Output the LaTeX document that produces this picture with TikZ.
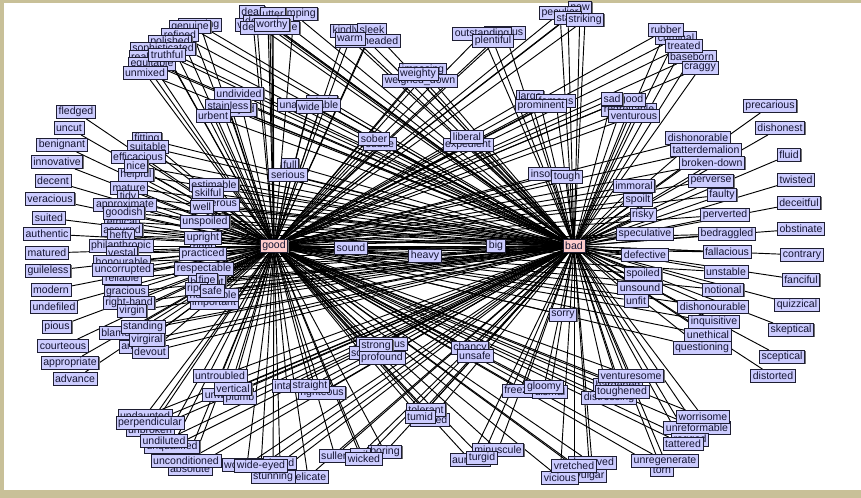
\documentclass[tikz,border=0pt]{standalone}
\usepackage{fontspec}
\newfontfamily\wordfont{Liberation Sans}
\usetikzlibrary{backgrounds,shadows}
\tikzset{
  word/.style={draw={rgb, 255:red, 30; green, 30; blue, 50 }, fill={rgb, 255:red, 204; green, 204; blue, 255 }, line width=0.6pt,
    inner xsep=1.6pt, inner ysep=0pt, minimum height=9.8pt, font=\wordfont\fontsize{7.9}{8}\selectfont,
    text={rgb, 255:red, 20; green, 20; blue, 50 }, drop shadow={shadow xshift=0.7pt, shadow yshift=-0.7pt, opacity=1, fill=black!55}},
  hub/.style={word, fill={rgb, 255:red, 255; green, 204; blue, 204 }},
  link/.style={draw=black, line width=0.7pt},
}
\begin{document}
\begin{tikzpicture}[x=0.75pt,y=0.75pt,yscale=-1,xscale=1]
\useasboundingbox (0,0) rectangle (861,498);
% Text Node: outer column left
\draw (76,112) node [word] (fledged) {fledged};
\draw (69,128) node [word] (uncut) {uncut};
\draw (62,145) node [word] (benignant) {benignant};
\draw (57,162) node [word] (innovative) {innovative};
\draw (53,181) node [word] (decent) {decent};
\draw (50,199) node [word] (veracious) {veracious};
\draw (49,218) node [word] (suited) {suited};
\draw (47,234) node [word] (authentic) {authentic};
\draw (47,253) node [word] (matured) {matured};
\draw (48,271) node [word] (guileless) {guileless};
\draw (51,290) node [word] (modern) {modern};
\draw (54,307) node [word] (undefiled) {undefiled};
\draw (57,327) node [word] (pious) {pious};
\draw (63,346) node [word] (courteous) {courteous};
\draw (70,363) node [word] (appropriate) {appropriate};
\draw (75,379) node [word] (advance) {advance};
% Text Node: top left cluster
\draw (200,25) node [word] (unerring) {unerring};
\draw (190,27) node [word] (genuine) {genuine};
\draw (180,35) node [word] (refined) {refined};
\draw (170,42) node [word] (polished) {polished};
\draw (163,49) node [word] (sophisticated) {sophisticated};
\draw (140,57) node [word] (real) {real};
\draw (152,64) node [word] (equitable) {equitable};
\draw (167,55) node [word] (truthful) {truthful};
\draw (145,73) node [word] (unmixed) {unmixed};
\draw (232,110) node [word] (unalloyed) {unalloyed};
\draw (239,94) node [word] (undivided) {undivided};
\draw (228,106) node [word] (stainless) {stainless};
\draw (213,116) node [word] (urbent) {urbent};
% Text Node: top row
\draw (252,12) node [word] (dear) {dear};
\draw (294,14) node [word] (thumping) {thumping};
\draw (257,25) node [word] (valuable) {valuable};
\draw (273,14) node [word] (utter) {utter};
\draw (268,22) node [word] (deserving) {deserving};
\draw (270,28) node [word] (dependable) {dependable};
\draw (272,25) node [word] (worthy) {worthy};
\draw (346,31) node [word] (kindly) {kindly};
\draw (372,30) node [word] (sleek) {sleek};
\draw (368,41) node [word] (levelheaded) {level-headed};
\draw (350,39) node [word] (warm) {warm};
\draw (423,70) node [word] (imposing) {imposing};
\draw (420,81) node [word] (weigheddown) {weighed\_down};
\draw (418,74) node [word] (weighty) {weighty};
\draw (505,33) node [word] (copious) {copious};
\draw (482,34) node [word] (outstanding) {outstanding};
\draw (493,41) node [word] (plentiful) {plentiful};
\draw (580,8) node [word] (new) {new};
\draw (560,13) node [word] (peculiar) {peculiar};
\draw (568,18) node [word] (stark) {stark};
\draw (585,20) node [word] (striking) {striking};
% Text Node: upper middle
\draw (322,102) node [word] (whole) {whole};
\draw (309,105) node [word] (unassailable) {unassailable};
\draw (309,107) node [word] (wide) {wide};
\draw (380,144) node [word] (subtle) {subtle};
\draw (374,139) node [word] (sober) {sober};
\draw (468,145) node [word] (expedient) {expedient};
\draw (467,137) node [word] (liberal) {liberal};
\draw (530,97) node [word] (large) {large};
\draw (556,101) node [word] (famous) {famous};
\draw (541,106) node [word] (prominent) {prominent};
\draw (290,165) node [word] (full) {full};
\draw (288,175) node [word] (serious) {serious};
\draw (549,174) node [word] (insolent) {insolent};
\draw (567,177) node [word] (tough) {tough};
% Text Node: top right cluster
\draw (676,38) node [word] (criminal) {criminal};
\draw (692,57) node [word] (baseborn) {baseborn};
\draw (666,30) node [word] (rubber) {rubber};
\draw (684,46) node [word] (treated) {treated};
\draw (700,68) node [word] (craggy) {craggy};
\draw (629,110) node [word] (regrettable) {regrettable};
\draw (624,100) node [word] (nogood) {no-good};
\draw (612,99) node [word] (sad) {sad};
\draw (634,116) node [word] (venturous) {venturous};
% Text Node: outer column right
\draw (770,106) node [word] (precarious) {precarious};
\draw (780,128) node [word] (dishonest) {dishonest};
\draw (789,155) node [word] (fluid) {fluid};
\draw (796,180) node [word] (twisted) {twisted};
\draw (799,203) node [word] (deceitful) {deceitful};
\draw (801,229) node [word] (obstinate) {obstinate};
\draw (802,255) node [word] (contrary) {contrary};
\draw (801,280) node [word] (fanciful) {fanciful};
\draw (797,305) node [word] (quizzical) {quizzical};
\draw (791,330) node [word] (skeptical) {skeptical};
\draw (782,357) node [word] (sceptical) {sceptical};
\draw (773,376) node [word] (distorted) {distorted};
% Text Node: middle right
\draw (698,138) node [word] (dishonorable) {dishonorable};
\draw (706,150) node [word] (tatterdemalion) {tatterdemalion};
\draw (712,163) node [word] (brokendown) {broken-down};
\draw (711,181) node [word] (perverse) {perverse};
\draw (722,195) node [word] (faulty) {faulty};
\draw (725,215) node [word] (perverted) {perverted};
\draw (727,234) node [word] (bedraggled) {bedraggled};
\draw (727,252) node [word] (fallacious) {fallacious};
\draw (726,272) node [word] (unstable) {unstable};
\draw (723,290) node [word] (notional) {notional};
\draw (713,307) node [word] (dishonourable) {dishonourable};
\draw (714,322) node [word] (inquisitive) {inquisitive};
\draw (708,335) node [word] (unethical) {unethical};
\draw (702,348) node [word] (questioning) {questioning};
\draw (634,186) node [word] (immoral) {immoral};
\draw (638,200) node [word] (spoilt) {spoilt};
\draw (643,215) node [word] (risky) {risky};
\draw (645,234) node [word] (speculative) {speculative};
\draw (645,255) node [word] (defective) {defective};
\draw (643,274) node [word] (spoiled) {spoiled};
\draw (640,288) node [word] (unsound) {unsound};
\draw (636,301) node [word] (unfit) {unfit};
\draw (563,315) node [word] (sorry) {sorry};
% Text Node: middle left
\draw (147,139) node [word] (fitting) {fitting};
\draw (148,147) node [word] (suitable) {suitable};
\draw (138,157) node [word] (efficacious) {efficacious};
\draw (136,175) node [word] (helpful) {helpful};
\draw (136,166) node [word] (nice) {nice};
\draw (129,188) node [word] (mature) {mature};
\draw (128,197) node [word] (tidy) {tidy};
\draw (125,205) node [word] (approximate) {approximate};
\draw (122,222) node [word] (ethical) {ethical};
\draw (124,213) node [word] (goodish) {goodish};
\draw (122,230) node [word] (assured) {assured};
\draw (121,236) node [word] (hefty) {hefty};
\draw (121,246) node [word] (philanthropic) {philanthropic};
\draw (122,253) node [word] (vestal) {vestal};
\draw (122,262) node [word] (honourable) {honourable};
\draw (122,278) node [word] (reliable) {reliable};
\draw (123,270) node [word] (uncorrupted) {uncorrupted};
\draw (126,292) node [word] (gracious) {gracious};
\draw (129,303) node [word] (righthand) {right-hand};
\draw (132,311) node [word] (virgin) {virgin};
\draw (125,333) node [word] (blameless) {blameless};
\draw (138,347) node [word] (angelic) {angelic};
\draw (150,352) node [word] (devout) {devout};
\draw (143,327) node [word] (standing) {standing};
\draw (147,340) node [word] (virgiral) {virgiral};
\draw (214,185) node [word] (estimable) {estimable};
\draw (208,193) node [word] (skilful) {skilful};
\draw (215,205) node [word] (generous) {generous};
\draw (202,207) node [word] (well) {well};
\draw (205,222) node [word] (unspoiled) {unspoiled};
\draw (203,248) node [word] (right) {right};
\draw (203,238) node [word] (upright) {upright};
\draw (203,254) node [word] (practiced) {practiced};
\draw (204,269) node [word] (respectable) {respectable};
\draw (207,282) node [word] (brilliant) {brilliant};
\draw (207,280) node [word] (fine) {fine};
\draw (214,303) node [word] (important) {important};
\draw (213,295) node [word] (honorable) {honorable};
\draw (196,289) node [word] (ripe) {ripe};
\draw (212,291) node [word] (safe) {safe};
% Text Node: centre
\draw (351,248) node [word] (sound) {sound};
\draw (425,256) node [word] (heavy) {heavy};
\draw (496,246) node [word] (big) {big};
% Text Node: bottom left
\draw (228,395) node [word] (unworried) {unworried};
\draw (240,398) node [word] (plumb) {plumb};
\draw (220,376) node [word] (untroubled) {untroubled};
\draw (233,389) node [word] (vertical) {vertical};
\draw (145,416) node [word] (undaunted) {undaunted};
\draw (150,430) node [word] (unbroken) {unbroken};
\draw (150,423) node [word] (perpendicular) {perpendicular};
\draw (172,447) node [word] (unqualified) {unqualified};
\draw (164,441) node [word] (undiluted) {undiluted};
\draw (190,469) node [word] (absolute) {absolute};
\draw (186,461) node [word] (unconditioned) {unconditioned};
\draw (247,465) node [word] (wonderful) {wonderful};
\draw (280,463) node [word] (dazed) {dazed};
\draw (308,477) node [word] (delicate) {delicate};
\draw (273,477) node [word] (stunning) {stunning};
\draw (261,466) node [word] (wideeyed) {wide-eyed};
% Text Node: bottom middle
\draw (287,386) node [word] (intact) {intact};
\draw (322,393) node [word] (righteous) {righteous};
\draw (310,386) node [word] (straight) {straight};
\draw (382,344) node [word] (strenuous) {strenuous};
\draw (362,353) node [word] (solid) {solid};
\draw (376,346) node [word] (strong) {strong};
\draw (382,358) node [word] (profound) {profound};
\draw (470,348) node [word] (chancy) {chancy};
\draw (475,356) node [word] (unsafe) {unsafe};
\draw (430,420) node [word] (bloated) {bloated};
\draw (426,410) node [word] (tolerant) {tolerant};
\draw (420,417) node [word] (tumid) {tumid};
\draw (335,456) node [word] (sullen) {sullen};
\draw (385,452) node [word] (boring) {boring};
\draw (360,455) node [word] (evil) {evil};
\draw (364,459) node [word] (wicked) {wicked};
\draw (470,460) node [word] (aureate) {aureate};
\draw (498,450) node [word] (minuscule) {minuscule};
\draw (482,458) node [word] (turgid) {turgid};
\draw (523,391) node [word] (freezing) {freezing};
\draw (550,392) node [word] (dismal) {dismal};
\draw (544,387) node [word] (gloomy) {gloomy};
% Text Node: bottom right
\draw (592,463) node [word] (depraved) {depraved};
\draw (590,476) node [word] (vulgar) {vulgar};
\draw (560,478) node [word] (vicious) {vicious};
\draw (574,466) node [word] (vretched) {vretched};
\draw (618,385) node [word] (hardened) {hardened};
\draw (609,398) node [word] (distressing) {distressing};
\draw (622,392) node [word] (toughened) {toughened};
\draw (631,376) node [word] (venturesome) {venturesome};
\draw (697,428) node [word] (unreformable) {unreformable};
\draw (703,417) node [word] (worrisome) {worrisome};
\draw (690,440) node [word] (ragged) {ragged};
\draw (683,444) node [word] (tattered) {tattered};
\draw (662,470) node [word] (torn) {torn};
\draw (665,461) node [word] (unregenerate) {unregenerate};
% Text Node: hubs
\draw (274,246) node [hub] (good) {good};
\draw (574,246) node [hub] (bad) {bad};

\begin{pgfonlayer}{background}
%Shape: frame
\fill [fill={rgb, 255:red, 200; green, 192; blue, 152 }] (0,0) rectangle (861,498);
\fill [white] (4,3) rectangle (861,490);
%Straight Lines: good only
\path [link] (good) edge (fledged) edge (uncut) edge (benignant) edge (innovative) edge (decent) edge (veracious)
  edge (suited) edge (authentic) edge (matured) edge (guileless) edge (modern) edge (undefiled) edge (pious)
  edge (courteous) edge (appropriate) edge (advance);
%Straight Lines: bad only
\path [link] (bad) edge (precarious) edge (dishonest) edge (fluid) edge (twisted) edge (deceitful) edge (obstinate)
  edge (contrary) edge (fanciful) edge (quizzical) edge (skeptical) edge (sceptical) edge (distorted);
%Straight Lines: both hubs
\foreach \hubname in {good,bad}{
\path [link] (\hubname) edge (unerring) edge (genuine) edge (refined) edge (polished) edge (sophisticated) edge (real)
  edge (equitable) edge (truthful) edge (unmixed) edge (unalloyed) edge (undivided) edge (stainless) edge (urbent)
  edge (dear) edge (thumping) edge (valuable) edge (utter) edge (deserving) edge (dependable) edge (worthy)
  edge (kindly) edge (sleek) edge (levelheaded) edge (warm) edge (imposing) edge (weigheddown) edge (weighty)
  edge (copious) edge (outstanding) edge (plentiful) edge (new) edge (peculiar) edge (stark) edge (striking)
  edge (whole) edge (unassailable) edge (wide) edge (subtle) edge (sober) edge (expedient) edge (liberal)
  edge (large) edge (famous) edge (prominent) edge (full) edge (serious) edge (insolent) edge (tough)
  edge (criminal) edge (baseborn) edge (rubber) edge (treated) edge (craggy) edge (regrettable) edge (nogood)
  edge (sad) edge (venturous);
\path [link] (\hubname) edge (dishonorable) edge (tatterdemalion) edge (brokendown) edge (perverse) edge (faulty)
  edge (perverted) edge (bedraggled) edge (fallacious) edge (unstable) edge (notional) edge (dishonourable)
  edge (inquisitive) edge (unethical) edge (questioning) edge (immoral) edge (spoilt) edge (risky) edge (speculative)
  edge (defective) edge (spoiled) edge (unsound) edge (unfit) edge (sorry);
\path [link] (\hubname) edge (fitting) edge (suitable) edge (efficacious) edge (helpful) edge (nice) edge (mature)
  edge (tidy) edge (approximate) edge (ethical) edge (goodish) edge (assured) edge (hefty) edge (philanthropic)
  edge (vestal) edge (honourable) edge (reliable) edge (uncorrupted) edge (gracious) edge (righthand) edge (virgin)
  edge (blameless) edge (angelic) edge (devout) edge (standing) edge (virgiral) edge (estimable) edge (skilful)
  edge (generous) edge (well) edge (unspoiled) edge (right) edge (upright) edge (practiced) edge (respectable)
  edge (brilliant) edge (fine) edge (important) edge (honorable) edge (ripe) edge (safe) edge (sound) edge (heavy) edge (big);
\path [link] (\hubname) edge (unworried) edge (plumb) edge (untroubled) edge (vertical) edge (undaunted) edge (unbroken)
  edge (perpendicular) edge (unqualified) edge (undiluted) edge (absolute) edge (unconditioned) edge (wonderful)
  edge (dazed) edge (delicate) edge (stunning) edge (wideeyed) edge (intact) edge (righteous) edge (straight)
  edge (strenuous) edge (solid) edge (strong) edge (profound) edge (chancy) edge (unsafe) edge (bloated)
  edge (tolerant) edge (tumid) edge (sullen) edge (boring) edge (evil) edge (wicked) edge (aureate) edge (minuscule)
  edge (turgid) edge (freezing) edge (dismal) edge (gloomy) edge (depraved) edge (vulgar) edge (vicious)
  edge (vretched) edge (hardened) edge (distressing) edge (toughened) edge (venturesome) edge (unreformable)
  edge (worrisome) edge (ragged) edge (tattered) edge (torn) edge (unregenerate);
}
\end{pgfonlayer}
\end{tikzpicture}
\end{document}
